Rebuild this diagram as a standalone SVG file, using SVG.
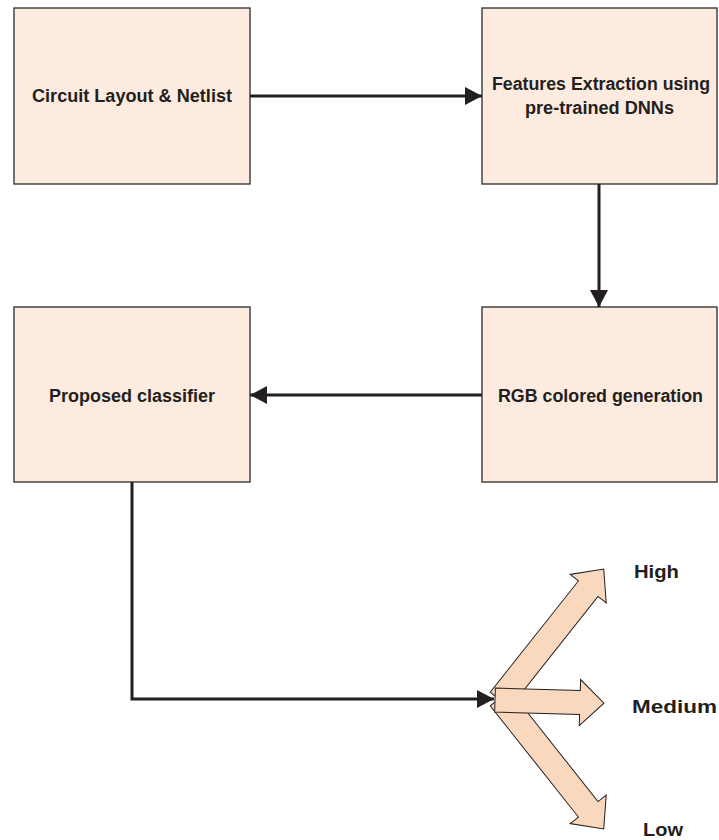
<svg xmlns="http://www.w3.org/2000/svg" width="719" height="840" viewBox="0 0 719 840">
<style>
.box{fill:#FDEBDF;stroke:#3a3a3a;stroke-width:1.4}
.lbl{font-family:"Liberation Sans",Arial,sans-serif;font-weight:bold;font-size:18px;fill:#231F20}
.con{fill:none;stroke:#231F20;stroke-width:3}
.fan{fill:#FAD8BE;stroke:#231F20;stroke-width:1}
</style>
<defs>
<marker id="ah" markerUnits="userSpaceOnUse" markerWidth="18" markerHeight="18" refX="17" refY="9" orient="auto">
<path d="M0,0 L17,9 L0,18 Z" fill="#231F20"/>
</marker>
</defs>
<rect width="719" height="840" fill="#fff"/>
<g id="n1">
<rect class="box" x="14" y="8" width="236" height="176"/>
<text class="lbl" x="32" y="102" textLength="200" lengthAdjust="spacingAndGlyphs">Circuit Layout &amp; Netlist</text>
</g>
<g id="n2">
<rect class="box" x="482" y="8" width="235" height="176"/>
<text class="lbl" x="492" y="90" textLength="218" lengthAdjust="spacingAndGlyphs">Features Extraction using</text>
<text class="lbl" x="525" y="114" textLength="149" lengthAdjust="spacingAndGlyphs">pre-trained DNNs</text>
</g>
<g id="n3">
<rect class="box" x="482" y="307" width="235" height="175"/>
<text class="lbl" x="498" y="402" textLength="205" lengthAdjust="spacingAndGlyphs">RGB colored generation</text>
</g>
<g id="n4">
<rect class="box" x="14" y="307" width="236" height="175"/>
<text class="lbl" x="49" y="402" textLength="166" lengthAdjust="spacingAndGlyphs">Proposed  classifier</text>
</g>
<g id="outputs">
<polygon class="fan" transform="translate(500,700) rotate(-51.6)" points="0,-12.5 142,-12.5 142,-23 167,0 142,23 142,12.5 0,12.5"/>
<polygon class="fan" transform="translate(500,698) rotate(51.6)" points="0,-12.5 142,-12.5 142,-23 167,0 142,23 142,12.5 0,12.5"/>
<polygon class="fan" transform="translate(495,700) rotate(1.7)" points="0,-12 85,-12 85,-23 109,0 85,23 85,12 0,12"/>
<text class="lbl" x="634" y="578" textLength="45" lengthAdjust="spacingAndGlyphs">High</text>
<text class="lbl" x="632" y="713" textLength="85" lengthAdjust="spacingAndGlyphs">Medium</text>
<text class="lbl" x="643" y="836" textLength="40" lengthAdjust="spacingAndGlyphs">Low</text>
</g>
<g id="connectors">
<line class="con" x1="250" y1="96" x2="482" y2="96" marker-end="url(#ah)"/>
<line class="con" x1="599" y1="184" x2="599" y2="307" marker-end="url(#ah)"/>
<line class="con" x1="482" y1="395" x2="250" y2="395" marker-end="url(#ah)"/>
<polyline class="con" points="132,482 132,699 494,699" marker-end="url(#ah)"/>
</g>
</svg>
